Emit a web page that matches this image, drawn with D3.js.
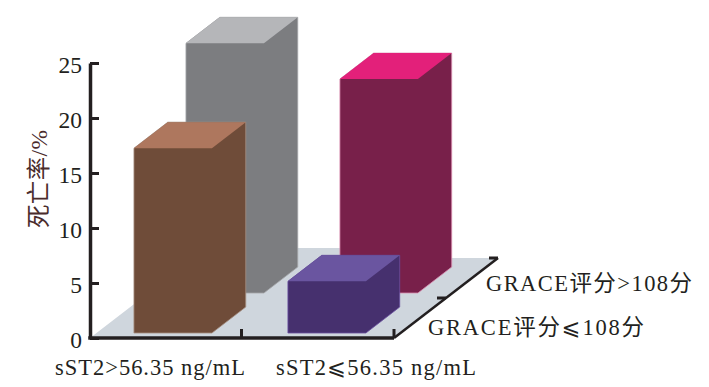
<!DOCTYPE html>
<html>
<head>
<meta charset="utf-8">
<script src="https://cdnjs.cloudflare.com/ajax/libs/d3/7.8.5/d3.min.js"></script>
<style>
body { margin: 0; background: #fff; }
text { font-family: "Liberation Serif", "Noto Sans CJK SC", "DejaVu Sans", serif; fill: #231f20; }
</style>
</head>
<body>
<div id="chart"></div>
<script>
// values
var sst2Groups = ["sST2>56.35 ng/mL", "sST2⩽56.35 ng/mL"];
var graceGroups = ["GRACE评分⩽108分", "GRACE评分>108分"];
var highSst2 = [16.8, 22.7];
var lowSst2 = [4.7, 19.45];
var yTicks = [0, 5, 10, 15, 20, 25];
var frontColors = [["#6f4c39", "#7c7d80"], ["#46306e", "#78204a"]];
var topColors = [["#ae775e", "#b5b6b9"], ["#6a55a0", "#e3207a"]];
var edgeColors = [["#a58d80", "#a5a6a8"], ["#6a4fa0", "#d98db0"]];

var width = 709, height = 387;
var svg = d3.select("#chart").append("svg")
    .attr("width", width)
    .attr("height", height);

var x = d3.scaleBand()
    .domain(sst2Groups)
    .range([90, 394])
    .paddingInner(0.4935)
    .paddingOuter(0.234)
    .align(0.52);

var y = d3.scaleLinear()
    .domain([0, 25])
    .range([338, 63]);

// depth runs along the floor: 0 at the front edge, 1 at the end of the axis
var depthX = d3.scaleLinear().domain([0, 1]).range([0, 104]);
var depthY = d3.scaleLinear().domain([0, 1]).range([0, -80]);
var depthPos = d3.scalePoint().domain(graceGroups).range([0.0625, 0.5625]);
var boxDepth = 0.325;

function project(px, py, t) {
    return [px + depthX(t), py + depthY(t)];
}

function poly(points, fill, stroke) {
    svg.append("polygon")
        .attr("points", points.map(p => p.join(",")).join(" "))
        .attr("fill", fill)
        .attr("stroke", stroke || "none")
        .attr("stroke-width", stroke ? 0.8 : 0)
        .attr("stroke-linejoin", "round");
}

// floor
poly([
    project(90, y(0), 0),
    project(394, y(0), 0),
    project(394, y(0), 1),
    project(345, y(0), 1),
    project(332, y(0), 1.125),
    project(90, y(0), 1.125)
], "#cfd6dd");

function drawBar(group, grace, value, front, top, edge) {
    var x0 = x(group), x1 = x0 + x.bandwidth();
    var t0 = depthPos(grace), t1 = t0 + boxDepth;
    var yb = y(0), yt = y(value);
    // outline first so the faces meet without a seam
    poly([
        project(x0, yb, t0), project(x1, yb, t0), project(x1, yb, t1),
        project(x1, yt, t1), project(x0, yt, t1), project(x0, yt, t0)
    ], front, edge);
    poly([
        project(x0, yt, t0), project(x1, yt, t0), project(x1, yt, t1), project(x0, yt, t1)
    ], top);
}

// back row first, front row over it
drawBar(sst2Groups[0], graceGroups[1], highSst2[1], frontColors[0][1], topColors[0][1], edgeColors[0][1]);
drawBar(sst2Groups[1], graceGroups[1], lowSst2[1], frontColors[1][1], topColors[1][1], edgeColors[1][1]);
drawBar(sst2Groups[0], graceGroups[0], highSst2[0], frontColors[0][0], topColors[0][0], edgeColors[0][0]);
drawBar(sst2Groups[1], graceGroups[0], lowSst2[0], frontColors[1][0], topColors[1][0], edgeColors[1][0]);

// y axis, ticks point into the plot
var yAxis = svg.append("g")
    .attr("transform", "translate(90,0)")
    .call(d3.axisLeft(y).tickValues(yTicks).tickSizeInner(-9).tickSizeOuter(0).tickPadding(8));
yAxis.select(".domain").attr("stroke", "#231f20").attr("stroke-width", 3.5);
yAxis.selectAll(".tick line").attr("stroke", "#231f20").attr("stroke-width", 3);
yAxis.selectAll(".tick text")
    .attr("font-size", 23.5)
    .attr("dy", "0.42em");

function axisLine(a, b, w) {
    svg.append("line")
        .attr("x1", a[0]).attr("y1", a[1])
        .attr("x2", b[0]).attr("y2", b[1])
        .attr("stroke", "#231f20")
        .attr("stroke-width", w);
}

// x axis and depth axis
axisLine([88.25, y(0)], [394, y(0)], 3.5);
axisLine(project(394, y(0), 0), project(394, y(0), 1), 2.5);
axisLine([241.5, y(0)], [241.5, y(0) - 9], 3);
axisLine([394, y(0)], [394, y(0) - 9], 3);
axisLine(project(394, y(0), 0.5), [project(394, y(0), 0.5)[0] - 9, project(394, y(0), 0.5)[1]], 3);
axisLine(project(394, y(0), 1), [project(394, y(0), 1)[0] - 9, project(394, y(0), 1)[1]], 3);

// category labels
svg.append("text").text(sst2Groups[0]).attr("x", 55).attr("y", 375)
    .attr("font-size", 22.5).attr("textLength", 190);
svg.append("text").text(sst2Groups[1]).attr("x", 276).attr("y", 375)
    .attr("font-size", 22.5).attr("textLength", 200);
svg.append("text").text(graceGroups[0]).attr("x", 428).attr("y", 335)
    .attr("font-size", 22.5).attr("textLength", 216);
svg.append("text").text(graceGroups[1]).attr("x", 486).attr("y", 291)
    .attr("font-size", 22.5).attr("textLength", 206);

// y title
svg.append("text").text("死亡率/%")
    .attr("transform", "translate(47,228) rotate(-90)")
    .attr("font-size", 23.5)
    .attr("textLength", 98)
    .style("fill", "#4a2c2c");
</script>
</body>
</html>
